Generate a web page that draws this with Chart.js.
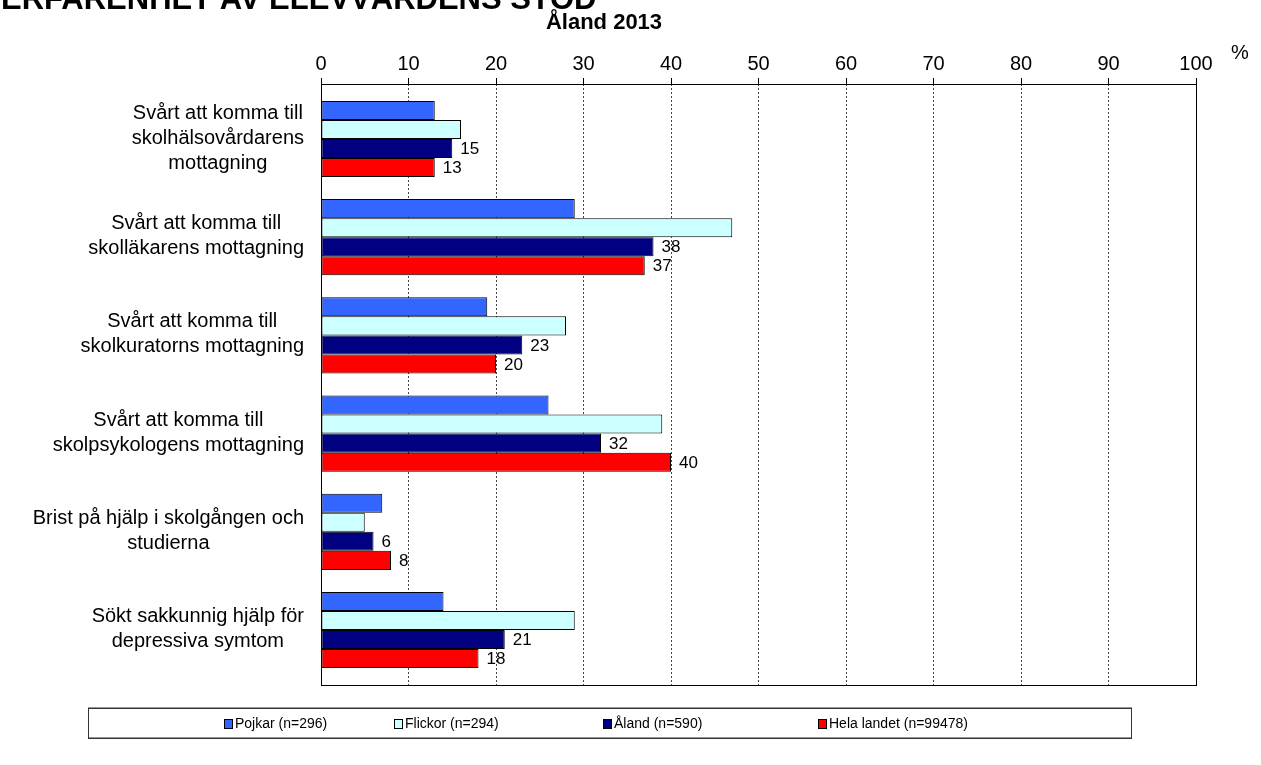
<!DOCTYPE html>
<html>
<head>
<meta charset="utf-8">
<script src="https://cdn.jsdelivr.net/npm/chart.js@4.4.1/dist/chart.umd.min.js"></script>
<style>
    html, body { margin: 0; padding: 0; background: #fff; }
    #wrap { width: 1261px; height: 765px; }
</style>
</head>
<body>
<div id="wrap"><canvas id="chart" width="1261" height="765"></canvas></div>
<script>
const categories = [
    ['Svårt att komma till', 'skolhälsovårdarens', 'mottagning'],
    ['Svårt att komma till', 'skolläkarens mottagning'],
    ['Svårt att komma till', 'skolkuratorns mottagning'],
    ['Svårt att komma till', 'skolpsykologens mottagning'],
    ['Brist på hjälp i skolgången och', 'studierna'],
    ['Sökt sakkunnig hjälp för', 'depressiva symtom']
];
const seriesNames = ['Pojkar (n=296)', 'Flickor (n=294)', 'Åland (n=590)', 'Hela landet (n=99478)'];
const pojkar = [13, 29, 19, 26, 7, 14];
const flickor = [16, 47, 28, 39, 5, 29];
const aland = [15, 38, 23, 32, 6, 21];
const helaLandet = [13, 37, 20, 40, 8, 18];
const xTicks = [0, 10, 20, 30, 40, 50, 60, 70, 80, 90, 100];

const FONT = '"Liberation Sans", Arial, sans-serif';
const colors = ['#3366ff', '#ccffff', '#000080', '#ff0000'];
const labelledSeries = [2, 3];
// legend marker x positions (left edge of the little square)
const legendX = [224, 394, 603, 818];

const extras = {
    id: 'extras',
    afterDatasetsDraw(chart) {
        const ctx = chart.ctx;
        const area = chart.chartArea;
        ctx.save();

        // frame round the plot
        ctx.strokeStyle = '#000';
        ctx.lineWidth = 1;
        ctx.strokeRect(Math.round(area.left) + 0.5, Math.round(area.top) + 0.5,
            Math.round(area.right - area.left), Math.round(area.bottom - area.top));

        // values next to Åland and Hela landet bars
        ctx.fillStyle = '#000';
        ctx.font = '17px ' + FONT;
        ctx.textAlign = 'left';
        ctx.textBaseline = 'middle';
        labelledSeries.forEach(di => {
            const meta = chart.getDatasetMeta(di);
            meta.data.forEach((bar, i) => {
                ctx.fillText(String(chart.data.datasets[di].data[i].x), bar.x + 8, bar.y + 1);
            });
        });
        ctx.restore();
    },
    afterDraw(chart) {
        const ctx = chart.ctx;
        const area = chart.chartArea;
        const yScale = chart.scales.y;
        ctx.save();
        ctx.fillStyle = '#000';

        // category labels, each block centred on its own widest line
        ctx.font = '20px ' + FONT;
        ctx.textAlign = 'center';
        ctx.textBaseline = 'middle';
        const lineH = 25;
        categories.forEach((lines, i) => {
            const cy = yScale.getPixelForValue(i);
            const w = Math.max(...lines.map(l => ctx.measureText(l).width));
            const cx = area.left - 17 - w / 2;
            lines.forEach((l, k) => {
                ctx.fillText(l, cx, cy + (k - (lines.length - 1) / 2) * lineH - 1);
            });
        });

        // titles
        ctx.font = 'bold 31px ' + FONT;
        ctx.textAlign = 'left';
        ctx.textBaseline = 'alphabetic';
        ctx.fillText('ERFARENHET AV ELEVVÅRDENS STÖD', 1, 9);
        ctx.font = 'bold 22px ' + FONT;
        ctx.textAlign = 'center';
        ctx.textBaseline = 'middle';
        ctx.fillText('Åland 2013', 604, 23);

        // unit
        ctx.font = '20px ' + FONT;
        ctx.fillText('%', 1240, 53);

        // legend
        const box = { left: 88, top: 708, right: 1131, bottom: 738 };
        ctx.strokeStyle = '#999';
        ctx.strokeRect(box.left + 0.5, box.top - 0.5, box.right - box.left, box.bottom - box.top);
        ctx.strokeStyle = '#333';
        ctx.strokeRect(box.left + 0.5, box.top + 0.5, box.right - box.left, box.bottom - box.top);
        const ly = (box.top + box.bottom) / 2;
        ctx.font = '14px ' + FONT;
        ctx.textAlign = 'left';
        chart.data.datasets.forEach((ds, i) => {
            ctx.fillStyle = ds.backgroundColor;
            ctx.fillRect(legendX[i], ly - 4, 8, 9);
            ctx.strokeStyle = '#000';
            ctx.strokeRect(legendX[i] + 0.5, ly - 4 + 0.5, 8, 9);
            ctx.fillStyle = '#000';
            ctx.fillText(ds.label, legendX[i] + 11, ly + 1);
        });
        ctx.restore();
    }
};

const ctx = document.getElementById('chart').getContext('2d');
const chart = new Chart(ctx, {
    type: 'bar',
    data: {
        datasets: [pojkar, flickor, aland, helaLandet].map((values, i) => ({
            label: seriesNames[i],
            data: values.map((v, k) => ({ x: v, y: k })),
            backgroundColor: colors[i],
            borderColor: '#000',
            borderWidth: 1,
            borderSkipped: false,
            categoryPercentage: 0.776,
            barPercentage: 1
        }))
    },
    options: {
        responsive: false,
        animation: false,
        indexAxis: 'y',
        layout: { padding: { top: 40, right: 65, bottom: 80, left: 0 } },
        plugins: {
            legend: { display: false },
            tooltip: { enabled: false }
        },
        scales: {
            x: {
                type: 'linear',
                position: 'top',
                min: 0,
                max: 100,
                afterBuildTicks: scale => { scale.ticks = xTicks.map(v => ({ value: v })); },
                ticks: { color: '#000', font: { size: 20, family: FONT }, padding: 2, maxRotation: 0 },
                grid: { color: '#444', lineWidth: 1, tickLength: 6, tickBorderDash: [], tickColor: '#000' },
                border: { display: false, dash: [2, 2] },
                afterFit: scale => { scale.height = 44; }
            },
            y: {
                type: 'linear',
                reverse: true,
                offset: false,
                min: -0.56,
                max: categories.length - 1 + 0.56,
                afterBuildTicks: scale => { scale.ticks = categories.map((c, i) => ({ value: i })); },
                ticks: { display: false },
                grid: { display: false, offset: false },
                border: { display: false },
                afterFit: scale => { scale.width = 321; }
            }
        }
    },
    plugins: [extras]
});
</script>
</body>
</html>
